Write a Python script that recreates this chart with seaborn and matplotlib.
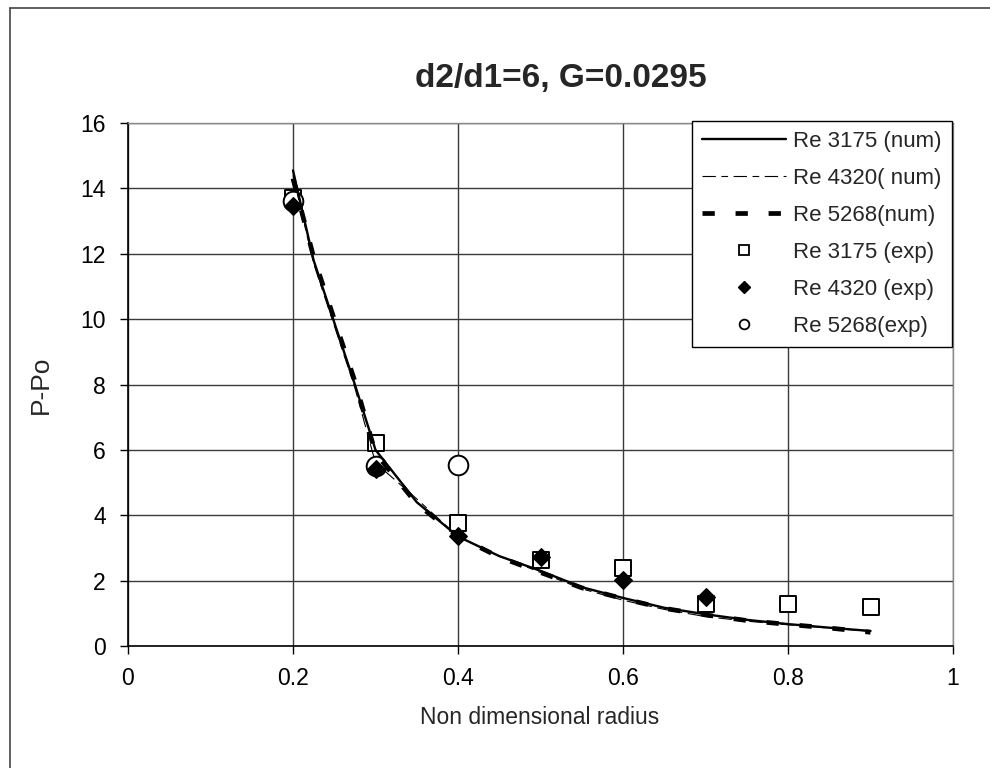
import numpy as np
import pandas as pd
import matplotlib
matplotlib.use("Agg")
import matplotlib.pyplot as plt
import seaborn as sns
from matplotlib.lines import Line2D

# ---------------- data ----------------
x_num = [0.2, 0.225, 0.25, 0.275, 0.3, 0.35, 0.4, 0.45, 0.5, 0.55, 0.6, 0.65, 0.7, 0.75, 0.8, 0.85, 0.9]
p_3175_num = [14.55, 11.8, 9.9, 8.0, 6.0, 4.4, 3.35, 2.75, 2.3, 1.8, 1.47, 1.17, 0.97, 0.8, 0.67, 0.56, 0.46]
p_4320_num = [14.4, 11.7, 9.8, 7.9, 5.6, 4.5, 3.35, 2.75, 2.25, 1.75, 1.4, 1.12, 0.9, 0.76, 0.65, 0.55, 0.45]
p_5268_num = [14.3, 11.9, 10.0, 8.1, 5.9, 4.35, 3.35, 2.72, 2.25, 1.78, 1.45, 1.15, 0.95, 0.78, 0.66, 0.55, 0.42]

x_3175_exp = [0.2, 0.3, 0.4, 0.5, 0.6, 0.7, 0.8, 0.9]
p_3175_exp = [13.7, 6.2, 3.75, 2.63, 2.39, 1.30, 1.30, 1.20]
x_4320_exp = [0.2, 0.3, 0.4, 0.5, 0.6, 0.7]
p_4320_exp = [13.45, 5.4, 3.35, 2.73, 2.02, 1.5]
x_5268_exp = [0.2, 0.3, 0.4]
p_5268_exp = [13.6, 5.5, 5.55]

labels = ["Re 3175 (num)", "Re 4320( num)", "Re 5268(num)",
          "Re 3175 (exp)", "Re 4320 (exp)", "Re 5268(exp)"]
x_ticks = [0, 0.2, 0.4, 0.6, 0.8, 1]
x_ticklabels = ["0", "0.2", "0.4", "0.6", "0.8", "1"]
y_ticks = [0, 2, 4, 6, 8, 10, 12, 14, 16]

title = "d2/d1=6, G=0.0295"
xlabel = "Non dimensional radius"
ylabel = "P-Po"

# ---------------- style ----------------
sns.set_style("white")
plt.rcParams["font.family"] = ["Liberation Sans", "DejaVu Sans"]

W, H = 990, 768
fig = plt.figure(figsize=(W / 100, H / 100), dpi=100)
L, R, T, B = 128, 953, 123, 646
ax = fig.add_axes([L / W, 1 - B / H, (R - L) / W, (B - T) / H])

lines = [
    dict(y=p_3175_num, lw=1.7, ls="-"),
    dict(y=p_4320_num, lw=0.8, ls=(0, (12, 5, 6, 5))),
    dict(y=p_5268_num, lw=3.4, ls=(0, (2.6, 4.4))),
]
for spec in lines:
    sns.lineplot(x=x_num, y=spec["y"], ax=ax, color="black", lw=spec["lw"],
                 linestyle=spec["ls"], sort=False, estimator=None, zorder=3)

sns.scatterplot(x=x_3175_exp, y=p_3175_exp, ax=ax, marker="s", s=140,
                facecolor="white", edgecolor="black", linewidth=1.4, zorder=2)
sns.scatterplot(x=x_5268_exp, y=p_5268_exp, ax=ax, marker="o", s=200,
                facecolor="white", edgecolor="black", linewidth=1.4, zorder=2)
sns.scatterplot(x=x_4320_exp, y=p_4320_exp, ax=ax, marker="D", s=80,
                color="black", edgecolor="black", linewidth=1.0, zorder=4)

ax.set_xlim(0, 1)
ax.set_ylim(0, 16)
ax.set_xticks(x_ticks)
ax.set_xticklabels(x_ticklabels)
ax.set_yticks(y_ticks)
ax.tick_params(axis="both", direction="out", length=6, width=1, color="black",
               labelsize=16.5, labelcolor="black", left=True, bottom=True)
ax.tick_params(axis="y", pad=10)
ax.tick_params(axis="x", pad=9)

ax.grid(True, color="#3a3a3a", lw=1.0)
ax.set_axisbelow(True)
for s in ["left", "bottom"]:
    ax.spines[s].set_color("black")
    ax.spines[s].set_linewidth(1.2)
for s in ["top", "right"]:
    ax.spines[s].set_color("#8a8a8a")
    ax.spines[s].set_linewidth(1.0)

ax.set_xlabel(xlabel, fontsize=16.5)
ax.set_ylabel(ylabel, fontsize=19)
ax.xaxis.set_label_coords((540 - L) / (R - L), -(706 - B) / (B - T))
ax.yaxis.set_label_coords(-(128 - 53) / (R - L), 0.5)

fig.text(561 / W, 1 - 78 / H, title, fontsize=24, fontweight="bold",
         ha="center", va="center")

handles = [
    Line2D([], [], color="black", lw=1.7, ls="-"),
    Line2D([], [], color="black", lw=0.8, ls=(0, (12, 5, 6, 5))),
    Line2D([], [], color="black", lw=3.4, ls=(0, (2.6, 4.4))),
    Line2D([], [], ls="none", marker="s", ms=7, mfc="white", mec="black", mew=1.3),
    Line2D([], [], ls="none", marker="D", ms=6.5, mfc="black", mec="black"),
    Line2D([], [], ls="none", marker="o", ms=7, mfc="white", mec="black", mew=1.3),
]
leg = fig.legend(handles, labels, loc="upper left",
                 bbox_to_anchor=(692 / W, 1 - 121 / H), fontsize=16,
                 frameon=True, fancybox=False, framealpha=1, edgecolor="black",
                 handlelength=3.8, handletextpad=0.3, labelspacing=0.72,
                 borderpad=0.45, borderaxespad=0)
leg.get_frame().set_linewidth(1.0)

# outer chart frame
fig.add_artist(Line2D([10 / W, 10 / W], [0, 1 - 8 / H], transform=fig.transFigure,
                      color="#444444", lw=1.2))
fig.add_artist(Line2D([10 / W, 1], [1 - 8 / H, 1 - 8 / H], transform=fig.transFigure,
                      color="#444444", lw=1.2))

fig.savefig("out.png", dpi=100)
